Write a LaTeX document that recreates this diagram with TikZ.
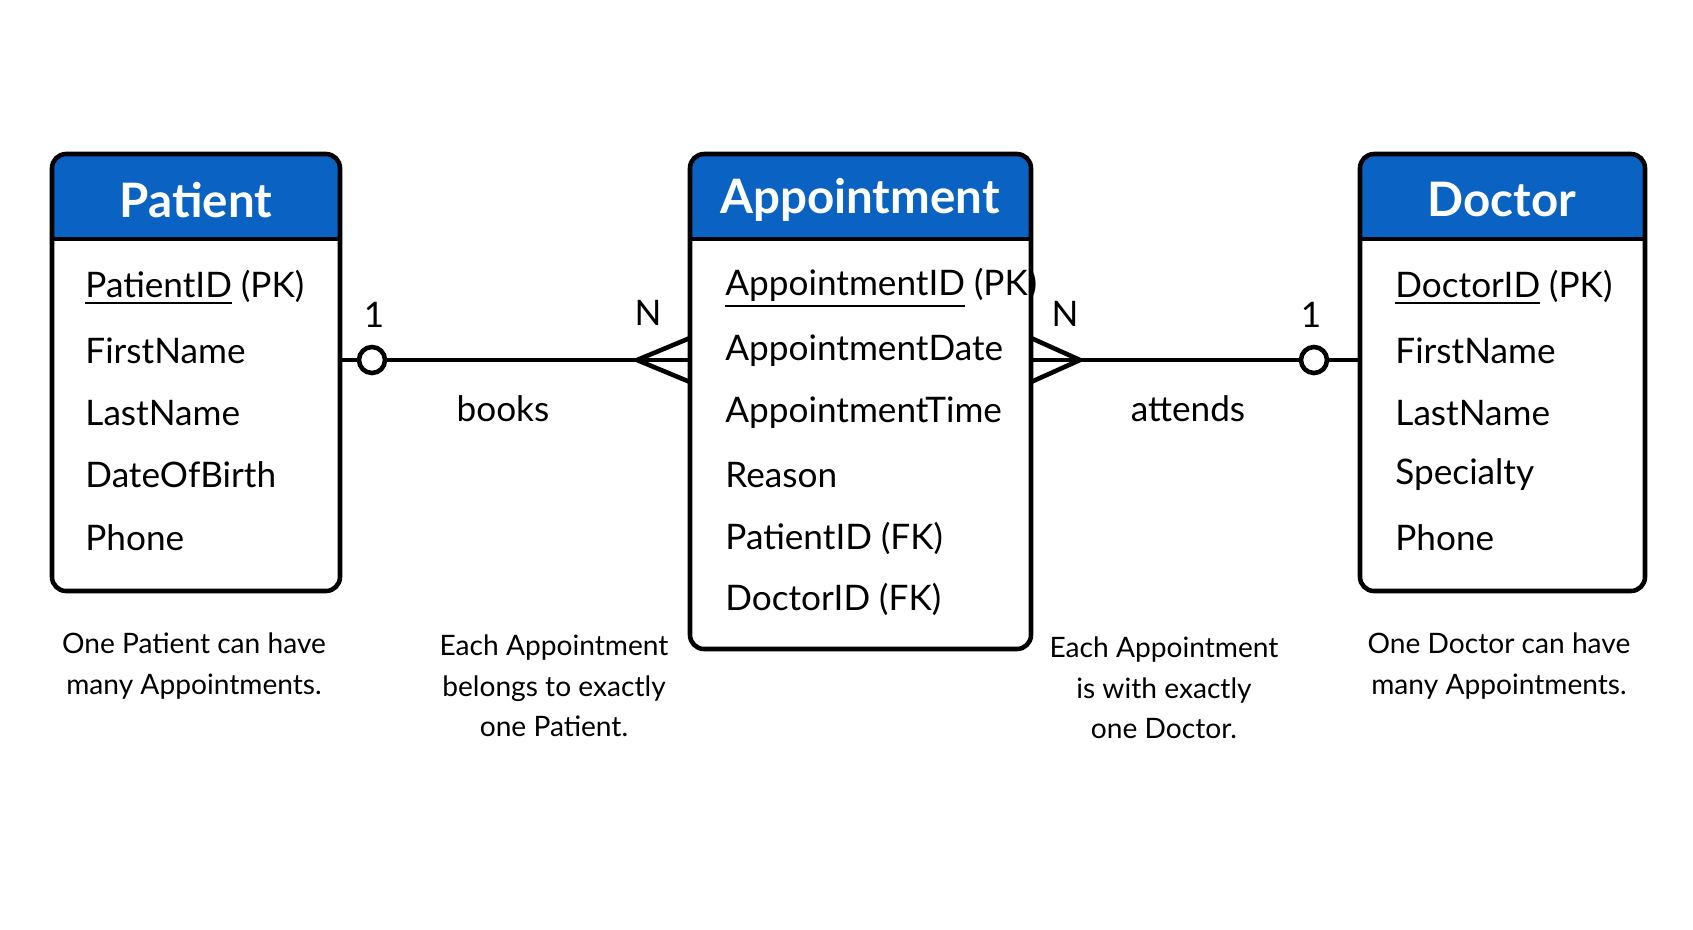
\documentclass[tikz,border=0pt]{standalone}
\usepackage{fontspec}
\setmainfont{Lato}
\definecolor{hdr}{HTML}{0A62C2}
\begin{document}
\begin{tikzpicture}[x=0.01cm,y=-0.01cm,
  ent/.style={draw=black,line width=1.3pt,rounded corners=4pt},
  hd/.style={font=\bfseries\fontsize{13.5}{15}\selectfont,text=white},
  attr/.style={anchor=west,font=\fontsize{10}{12}\selectfont},
  card/.style={font=\fontsize{10}{12}\selectfont},
  note/.style={align=center,font=\fontsize{8}{11.5}\selectfont},
  rel/.style={line width=1.3pt}]
\useasboundingbox (0,0) rectangle (1693,929);
% boxes
\newcommand{\entbox}[5]{%
  \fill[hdr,rounded corners=4pt] (#1,#3) rectangle (#2,239);
  \fill[hdr] (#1,200) rectangle (#2,239);
  \draw[line width=1.3pt] (#1,239) -- (#2,239);
  \draw[ent] (#1,#3) rectangle (#2,#4);
  \node[hd] (#5) at ({(#1+#2)/2},200) {};}
\entbox{52}{340}{154}{591}{ph}
\entbox{690}{1031}{154}{649}{ah}
\entbox{1360}{1645}{154}{591}{dh}
\node[hd] (pt) at (196,200) {Patient};
\node[hd] (at) at (860,200) {Appointment};
\node[hd] (dt) at (1502,200) {Doctor};
\coordinate (pR) at (340,360);
\coordinate (aL) at (690,360);
\coordinate (aR) at (1031,360);
\coordinate (dL) at (1360,360);
% attributes
\node[attr] (p1) at (73,288) {\underline{PatientID} (PK)};
\node[attr] (p2) at (73,351) {FirstName};
\node[attr] (p3) at (73,413) {LastName};
\node[attr] (p4) at (73,475) {DateOfBirth};
\node[attr] (p5) at (73,538) {Phone};
\node[attr] (a1) at (713,288) {\underline{AppointmentID} (PK)};
\node[attr] (a2) at (713,351) {AppointmentDate};
\node[attr] (a3) at (713,413) {AppointmentTime};
\node[attr] (a4) at (713,475) {Reason};
\node[attr] (a5) at (713,538) {PatientID (FK)};
\node[attr] (a6) at (713,599) {DoctorID (FK)};
\node[attr] (d1) at (1383,288) {\underline{DoctorID} (PK)};
\node[attr] (d2) at (1383,351) {FirstName};
\node[attr] (d3) at (1383,413) {LastName};
\node[attr] (d4) at (1383,475) {Specialty};
\node[attr] (d5) at (1383,538) {Phone};
% relationships
\node[draw,circle,line width=1.3pt,minimum size=0.26cm,inner sep=0pt,fill=white] (c1) at (372,360) {};
\node[draw,circle,line width=1.3pt,minimum size=0.26cm,inner sep=0pt,fill=white] (c2) at (1314,360) {};
\coordinate (t1) at (637,360);
\coordinate (t2) at (1080,360);
\draw[rel] (pR) -- (c1) -- (aL);
\draw[rel] (t1) -- (690,338) (t1) -- (690,382);
\draw[rel] (aR) -- (c2) -- (dL);
\draw[rel] (t2) -- (1031,338) (t2) -- (1031,382);
\node[card] (n1) at (374,315) {1};
\node[card] (n2) at (648,313) {N};
\node[card] (n3) at (1065,314) {N};
\node[card] (n4) at (1311,315) {1};
\node[card] (b) at (503,409) {books};
\node[card] (ad) at (1188,409) {attends};
\node[note] (m1) at (194,666) {One Patient can have\\many Appointments.};
\node[note] (m2) at (554,686) {Each Appointment\\belongs to exactly\\one Patient.};
\node[note] (m3) at (1164,688) {Each Appointment\\is with exactly\\one Doctor.};
\node[note] (m4) at (1499,666) {One Doctor can have\\many Appointments.};
\end{tikzpicture}
\end{document}
